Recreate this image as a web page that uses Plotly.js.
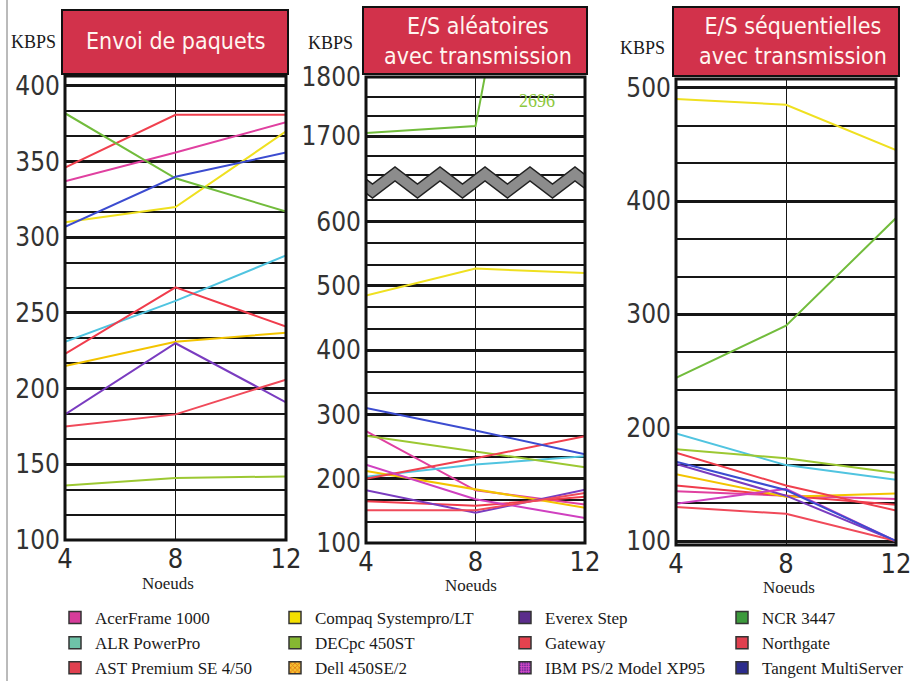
<!DOCTYPE html>
<html>
<head>
<meta charset="utf-8">
<script src="https://cdn.plot.ly/plotly-3.0.1.min.js"></script>
<style>html,body{margin:0;padding:0;background:#fff;}#chart{width:913px;height:681px;}</style>
</head>
<body>
<div id="chart"></div>
<script>
// ---------------- DATA ----------------
const nodes = [4, 8, 12];
const nodeLabels = ['4', '8', '12'];
const seriesNames = ['AcerFrame 1000', 'ALR PowerPro', 'AST Premium SE 4/50',
  'Compaq Systempro/LT', 'DECpc 450ST', 'Dell 450SE/2',
  'Everex Step', 'Gateway', 'IBM PS/2 Model XP95',
  'NCR 3447', 'Northgate', 'Tangent MultiServer'];
const panelTitles = ['Envoi de paquets', 'E/S aléatoires<br>avec transmission', 'E/S séquentielles<br>avec transmission'];
const yUnit = 'KBPS';
const xTitle = 'Noeuds';
const offScaleLabel = '2696';

// KBPS per series (same order as seriesNames), at 4, 8, 12 nodes
const envoiDePaquets = [
  [337, 356, 376], [231, 258, 288], [223, 267, 241],
  [310, 320, 370], [136, 141, 142], [215, 231, 237],
  [183, 230, 191], [346, 381, 381], null,
  [382, 339, 317], [175, 183, 206], [307, 340, 356]
];
const esAleatoires = [
  [274, 182, 160], [203, 222, 235], [165, 158, 172],
  [485, 527, 520], [267, 243, 218], [212, 183, 155],
  [182, 147, 183], [200, 232, 266], [222, 168, 139],
  [1705, 1717, 2696], [151, 151, 178], [310, 275, 238]
];
const esSequentielles = [
  [144, 140, 137], [195, 167, 154], [149, 140, 132],
  [490, 485, 445], [181, 173, 160], [159, 139, 142],
  [168, 140, 100], [178, 149, 127], [133, 146, 100],
  [244, 290, 385], [130, 124, 100], [170, 145, 100]
];

// ---------------- STYLE ----------------
const lineColors = ['#e040a0', '#50c4e0', '#f03c4c', '#efe020', '#9cc832', '#f3c400',
  '#7a3cc0', '#f0404e', '#d040c0', '#72bc3c', '#f04a5a', '#3c4cd0'];
const swatchColors = ['#d63c9a', '#6ec3a8', '#e0404f', '#f5e000', '#86b832', '#f0a040',
  '#5b2c8c', '#e5424f', '#a03cb0', '#3c9a3c', '#e0404f', '#2c2c8c'];

const W = 913, H = 681;
const px = v => v / W;
const py = v => 1 - v / H;
const narrow = '"Liberation Sans Narrow", "DejaVu Sans Condensed", "Arial Narrow", sans-serif';
const serif = '"Liberation Serif", "DejaVu Serif", serif';
const ink = '#161616';

const P1 = {x0: 65, x1: 286, y0: 76, y1: 540};
const P2 = {x0: 366, x1: 585, y0: 77, y1: 543, split: 178};
const P3 = {x0: 676, x1: 896, y0: 79, y1: 545};

function xAxis(P, anchor) {
  return {
    domain: [px(P.x0), px(P.x1)], anchor: anchor, range: [4, 12],
    tickvals: nodes, ticktext: nodeLabels, ticks: '', showgrid: true,
    gridcolor: ink, gridwidth: 1, zeroline: false, showline: false, ticklabelstandoff: 0,
    tickfont: {family: narrow, size: 27, color: '#2a2a2a'},
    fixedrange: true
  };
}
function yAxis(domTop, domBot, range, tick0, dtick, anchor) {
  return {
    domain: [py(domBot), py(domTop)], anchor: anchor, range: range,
    tick0: tick0, dtick: dtick, ticks: '', showgrid: true, gridcolor: ink, gridwidth: 3,
    minor: {tick0: tick0, dtick: dtick / 3, showgrid: true, gridcolor: ink, gridwidth: 2},
    zeroline: false, showline: false, ticklabelstandoff: 4,
    tickfont: {family: narrow, size: 26, color: '#333'}, fixedrange: true
  };
}

const traces = [];
// panel 1
envoiDePaquets.forEach((v, i) => {
  if (!v) return;
  traces.push({type: 'scatter', mode: 'lines', x: nodes, y: v, xaxis: 'x', yaxis: 'y',
    name: seriesNames[i], legendgroup: seriesNames[i], showlegend: false,
    line: {color: lineColors[i], width: 2}, hoverinfo: 'skip'});
});
// panel 2 (broken axis: upper y2, lower y3)
const lowerTop = 668;
esAleatoires.forEach((v, i) => {
  if (!v) return;
  const upper = Math.min(...v) > lowerTop;
  traces.push({type: 'scatter', mode: 'lines', x: nodes, y: v, xaxis: 'x2', yaxis: upper ? 'y2' : 'y3',
    name: seriesNames[i], legendgroup: seriesNames[i], showlegend: false,
    line: {color: lineColors[i], width: 2}, hoverinfo: 'skip'});
});
// panel 3
esSequentielles.forEach((v, i) => {
  if (!v) return;
  traces.push({type: 'scatter', mode: 'lines', x: nodes, y: v, xaxis: 'x3', yaxis: 'y4',
    name: seriesNames[i], legendgroup: seriesNames[i], showlegend: false,
    line: {color: lineColors[i], width: 2}, hoverinfo: 'skip'});
});
// legend entries (4 columns of 3)
const legendIds = ['legend', 'legend2', 'legend3', 'legend4'];
seriesNames.forEach((n, i) => {
  const m = {color: swatchColors[i], line: {color: '#333', width: 1.5}};
  if (n.indexOf('Dell') === 0) m.pattern = {shape: 'x', bgcolor: '#f6c030', fgcolor: '#e07a18', size: 4, solidity: 0.45};
  if (n.indexOf('IBM') === 0) m.pattern = {shape: '+', bgcolor: '#7a2aa0', fgcolor: '#e050c8', size: 3, solidity: 0.45};
  traces.push({type: 'bar', x: [null], y: [null], xaxis: 'x', yaxis: 'y', name: n,
    legendgroup: n, legend: legendIds[Math.floor(i / 3)], marker: m, hoverinfo: 'skip'});
});

// ---------------- LAYOUT ----------------
const shapes = [];
const annotations = [];
// page edge line
shapes.push({type: 'line', xref: 'paper', yref: 'paper', x0: px(7), x1: px(7), y0: 0, y1: 1,
  line: {color: '#777', width: 1}, layer: 'below'});
// title boxes
const boxes = [[62, 288, 10, 74], [363, 587, 7, 74], [673, 899, 7, 76]];
const titleCenters = [[176, 41], [478, 41], [793, 41]];
boxes.forEach((b, k) => {
  shapes.push({type: 'rect', xref: 'paper', yref: 'paper', x0: px(b[0]), x1: px(b[1]), y0: py(b[3]), y1: py(b[2]),
    fillcolor: '#d2324b', line: {color: '#111', width: 2}, layer: 'above'});
  annotations.push({xref: 'paper', yref: 'paper', x: px(titleCenters[k][0]), y: py(titleCenters[k][1]),
    xanchor: 'center', yanchor: 'middle', showarrow: false, text: panelTitles[k],
    font: {family: narrow, size: 23, color: '#fff6f0'}});
});
// KBPS labels
[[33, 42], [330, 43], [642, 48]].forEach(p => {
  annotations.push({xref: 'paper', yref: 'paper', x: px(p[0]), y: py(p[1]), xanchor: 'center', yanchor: 'middle',
    showarrow: false, text: yUnit, font: {family: serif, size: 18, color: '#1a1a1a'}});
});
// x-axis titles (Noeuds)
[[168, 583], [471, 585], [789, 587]].forEach(p => {
  annotations.push({xref: 'paper', yref: 'paper', x: px(p[0]), y: py(p[1]), xanchor: 'center', yanchor: 'middle',
    showarrow: false, text: xTitle, font: {family: serif, size: 17, color: '#222'}});
});
// zigzag break in panel 2
(function () {
  const period = 45, firstPeak = 395, yPeak = 167, yTrough = 184, thick = 14;
  const yAt = x => {
    let t = ((x - firstPeak) % period + period) % period; // 0 at peak
    const half = period / 2;
    const f = t <= half ? t / half : (period - t) / half;
    return yPeak + f * (yTrough - yPeak);
  };
  const xs = [P2.x0];
  for (let x = firstPeak - period; x <= P2.x1; x += period / 2) if (x > P2.x0 && x < P2.x1) xs.push(x);
  xs.push(P2.x1);
  let d = '';
  xs.forEach((x, j) => { d += (j ? 'L' : 'M') + px(x).toFixed(5) + ',' + py(yAt(x)).toFixed(5); });
  xs.slice().reverse().forEach(x => { d += 'L' + px(x).toFixed(5) + ',' + py(yAt(x) + thick).toFixed(5); });
  d += 'Z';
  shapes.push({type: 'path', xref: 'paper', yref: 'paper', path: d, fillcolor: '#8c8c8c',
    line: {color: '#222', width: 1.5}, layer: 'above'});
})();
// plot borders
[P1, P2, P3].forEach(P => {
  shapes.push({type: 'rect', xref: 'paper', yref: 'paper', x0: px(P.x0), x1: px(P.x1), y0: py(P.y1), y1: py(P.y0),
    line: {color: '#111', width: 3}, fillcolor: 'rgba(0,0,0,0)', layer: 'above'});
});
// off-scale value label
annotations.push({xref: 'x2', yref: 'y2', x: 10.25, y: 1760, showarrow: false, text: offScaleLabel,
  font: {family: serif, size: 18, color: '#8cc83c'}});

function legendAt(xc) {
  return {x: px(xc - 22), y: py(600), xanchor: 'left', yanchor: 'top', orientation: 'v',
    bgcolor: 'rgba(0,0,0,0)', borderwidth: 0, itemwidth: 30, tracegroupgap: 0,
    font: {family: serif, size: 17, color: '#1a1a1a'}, itemclick: false, itemdoubleclick: false};
}

const layout = {
  width: W, height: H, margin: {l: 0, r: 0, t: 0, b: 0, autoexpand: false},
  paper_bgcolor: '#ffffff', plot_bgcolor: '#ffffff', showlegend: true,
  xaxis: xAxis(P1, 'y'),
  yaxis: yAxis(P1.y0, P1.y1, [100, 406.6], 100, 50, 'x'),
  xaxis2: xAxis(P2, 'y3'),
  yaxis2: yAxis(P2.y0, P2.split, [1629, 1800], 1700, 100, 'x2'),
  yaxis3: yAxis(P2.split, P2.y1, [100, lowerTop], 100, 100, 'x2'),
  xaxis3: xAxis(P3, 'y4'),
  yaxis4: yAxis(P3.y0, P3.y1, [96.5, 507.7], 100, 100, 'x3'),
  legend: legendAt(77), legend2: legendAt(297), legend3: legendAt(527), legend4: legendAt(744),
  shapes: shapes, annotations: annotations
};

Plotly.newPlot('chart', traces, layout, {staticPlot: true});
</script>
</body>
</html>
